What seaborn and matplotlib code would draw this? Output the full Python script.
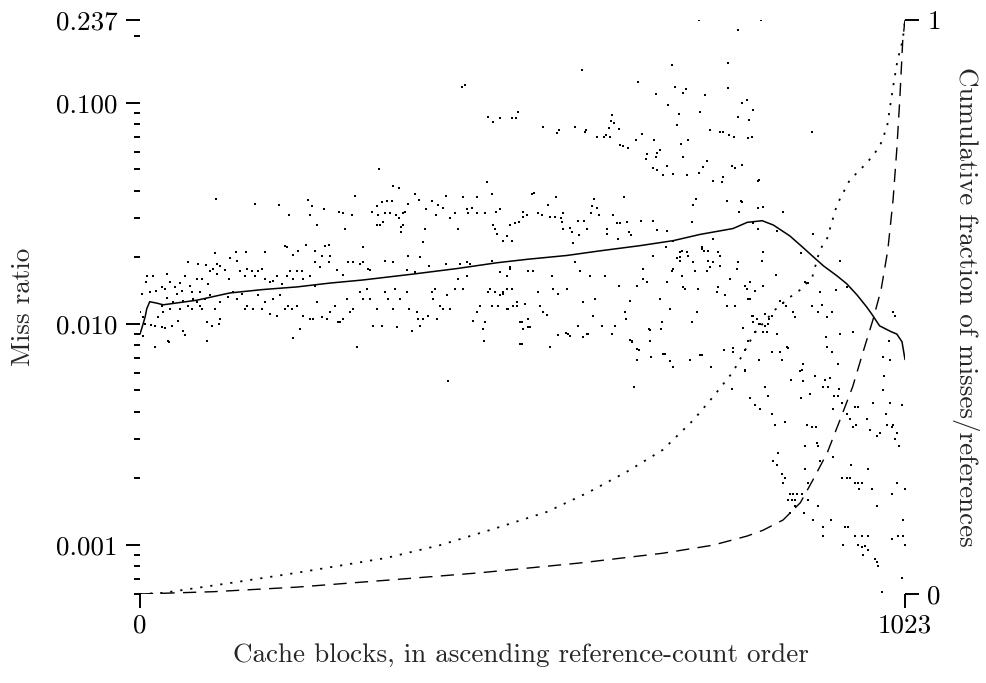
import matplotlib
matplotlib.use("Agg")
import matplotlib.pyplot as plt
import seaborn as sns
import numpy as np
import pandas as pd
from matplotlib.ticker import LogLocator, NullFormatter, FixedLocator

# ---------------- data (block index, miss ratio) ----------------
left_band = [
    (0,0.0113),(4,0.0107),(7,0.0100),(4,0.0088),(15,0.0099),(20,0.0098),(20,0.0079),(24,0.0108),(29,0.0097),(33,0.0096),
    (37,0.0084),(39,0.0083),(43,0.0098),(51,0.0103),(58,0.0093),(60,0.0089),(29,0.0121),(36,0.0131),(31,0.0113),(40,0.0117),
    (44,0.0126),(53,0.0117),(58,0.0127),(64,0.0121),(70,0.0117),(71,0.0130),(76,0.0126),(80,0.0121),(83,0.0117),(90,0.0084),
    (90,0.0102),(96,0.0098),(107,0.0105),(106,0.0100),(3,0.0137),(9,0.0165),(17,0.0164),(8,0.0155),(13,0.0140),(22,0.0141),
    (29,0.0147),(33,0.0144),(36,0.0169),(40,0.0155),(47,0.0147),(49,0.0137),(53,0.0153),(56,0.0141),(60,0.0165),(64,0.0191),
    (67,0.0149),(69,0.0140),(76,0.0160),(78,0.0187),(80,0.0140),(83,0.0160),(91,0.0152),(94,0.0173),(97,0.0178),(103,0.0169),
    (107,0.0183),(114,0.0176),(119,0.0160),(120,0.0198),(130,0.0193),(134,0.0173),(140,0.0165),(143,0.0178),(150,0.0173),(154,0.0165),
    (158,0.0173),(163,0.0178),(167,0.0160),(174,0.0155),(178,0.0157),(183,0.0165),(190,0.0152),(197,0.0165),(201,0.0173),(205,0.0160),
    (210,0.0173),(217,0.0173),(218,0.0160),(227,0.0165),(234,0.0149),(87,0.0130),(94,0.0135),(100,0.0117),(107,0.0126),(118,0.0133),
    (124,0.0140),(130,0.0130),(136,0.0137),(140,0.0117),(143,0.0121),(151,0.0117),(158,0.0135),(163,0.0117),(167,0.0126),(174,0.0111),
    (178,0.0130),(183,0.0109),(187,0.0135),(194,0.0117),(198,0.0121),(203,0.0117),(205,0.0086),(210,0.0120),(214,0.0095),(218,0.0109),
    (227,0.0105),(231,0.0105),(237,0.0126),(243,0.0107),(250,0.0105),(254,0.0113),(261,0.0121),(265,0.0102),(267,0.0102),(271,0.0105),
    (277,0.0130),(281,0.0113),(285,0.0117),(290,0.0079),(294,0.0140),(298,0.0130),(303,0.0144),(308,0.0130),(312,0.0098),(317,0.0117),
    (324,0.0098),(328,0.0140),(332,0.0130),(338,0.0117),(341,0.0144),(344,0.0097),(348,0.0130),(357,0.0140),(360,0.0117),(364,0.0093),
    (370,0.0113),(372,0.0105),(374,0.0098),(378,0.0105),(385,0.0109),(390,0.0140),(392,0.0130),(394,0.0144),(397,0.0105),(401,0.0121),
    (405,0.0117),(410,0.0135),(415,0.0117),(421,0.0144),(425,0.0160),(432,0.0144),(437,0.0165),(445,0.0103),(451,0.0113),(455,0.0121),
    (459,0.0095),(460,0.0084),(461,0.0102),(465,0.0140),(468,0.0144),(471,0.0121),(475,0.0140),(479,0.0121),(481,0.0135),(486,0.0140),
    (491,0.0144),(492,0.0117),(499,0.0121),(504,0.0126),(508,0.0102),(511,0.0081),(512,0.0095),(519,0.0105),(519,0.0097),
    (100,0.0210),(88,0.0185),(103,0.0187),(128,0.0212),(142,0.0212),(167,0.0212),(194,0.0224),(196,0.0222),(205,0.0206),(211,0.0214),
    (222,0.0227),(234,0.0214),(243,0.0203),(247,0.0224),(253,0.0228),(254,0.0203),(298,0.0222),(234,0.0191),(241,0.0180),(253,0.0190),
    (263,0.0176),(271,0.0166),(278,0.0191),(285,0.0190),(294,0.0187),(298,0.0190),(305,0.0177),(308,0.0176),(328,0.0193),(338,0.0191),
    (358,0.0203),(374,0.0200),(357,0.0176),(368,0.0172),(386,0.0183),(409,0.0187),(428,0.0187),(437,0.0190),(441,0.0187),(471,0.0193),
    (481,0.0172),(495,0.0178),(519,0.0173),
    (102,0.0369),(154,0.0350),(186,0.0346),(225,0.0365),(230,0.0340),(246,0.0330),(199,0.0310),(227,0.0310),(237,0.0280),(266,0.0320),
    (271,0.0316),(283,0.0310),(274,0.0268),(288,0.0380),(310,0.0320),(317,0.0340),(318,0.0310),(324,0.0355),(330,0.0360),(337,0.0360),
    (317,0.0280),(321,0.0280),(325,0.0290),(328,0.0316),(334,0.0316),(343,0.0310),(346,0.0300),(352,0.0316),(354,0.0320),(349,0.0275),
    (352,0.0280),(349,0.0260),(358,0.0350),(368,0.0385),(373,0.0365),(382,0.0330),(381,0.0268),(390,0.0360),(396,0.0310),(399,0.0345),
    (405,0.0333),(409,0.0380),(415,0.0300),(421,0.0316),(425,0.0270),(432,0.0375),(437,0.0330),(439,0.0316),(444,0.0333),(451,0.0375),
    (451,0.0316),(461,0.0316),(471,0.0385),(472,0.0280),(475,0.0270),(476,0.0320),(481,0.0330),(477,0.0256),(491,0.0250),(495,0.0280),
    (501,0.0285),(507,0.0290),(512,0.0305),(517,0.0310),(512,0.0320),(486,0.0236),(497,0.0236),(378,0.0235),(320,0.0500),(338,0.0420),
    (346,0.0414),(464,0.0440),
]

upper_cluster = [
    (430,0.118),(435,0.120),(465,0.0867),(472,0.082),(481,0.085),(497,0.085),(503,0.0858),(505,0.091),(591,0.141),(711,0.148),
    (786,0.151),(666,0.124),(715,0.118),(726,0.111),(730,0.116),(786,0.117),(690,0.110),(756,0.109),(706,0.0975),(805,0.100),
    (812,0.103),(820,0.093),(749,0.091),(800,0.086),(814,0.084),(721,0.089),(631,0.0878),(630,0.0825),(634,0.081),(641,0.0758),
    (627,0.077),(539,0.0775),(557,0.0727),(560,0.075),(582,0.0775),(595,0.074),(597,0.075),(611,0.0697),(620,0.070),(623,0.0715),
    (629,0.0697),(642,0.0642),(646,0.0636),(652,0.0622),(663,0.068),(671,0.072),(687,0.068),(718,0.079),(723,0.065),(733,0.068),
    (678,0.0584),(677,0.056),(691,0.059),(695,0.061),(690,0.0566),(686,0.0505),(691,0.0495),(699,0.047),(705,0.052),(713,0.0475),
    (726,0.057),(732,0.047),(748,0.048),(753,0.0515),(758,0.0545),(762,0.075),(776,0.0735),(780,0.0735),(788,0.0715),(794,0.0697),
    (766,0.0445),(778,0.0437),(780,0.046),(792,0.052),(796,0.0505),(805,0.0525),(828,0.0448),(813,0.069),(818,0.0697),(747,0.236),
    (830,0.236),(800,0.214),(899,0.074),(826,0.0445),
]

middle_cloud = [
    (524,0.0385),(527,0.0389),(556,0.0375),(647,0.0375),(743,0.0369),(740,0.0345),(785,0.036),(804,0.036),(805,0.0355),(801,0.032),
    (826,0.0333),(833,0.0337),(860,0.032),(546,0.0345),(532,0.0316),(538,0.031),(548,0.0305),(555,0.0305),(563,0.030),(566,0.0318),
    (564,0.029),(566,0.027),(575,0.0272),(578,0.026),(586,0.0293),(587,0.0253),(579,0.0233),(594,0.0293),(598,0.027),(604,0.034),
    (603,0.0318),(607,0.0369),(611,0.0333),(614,0.031),(625,0.027),(624,0.0256),(633,0.031),(638,0.0285),(639,0.0243),(642,0.0285),
    (651,0.029),(654,0.026),(657,0.0253),(670,0.0293),(686,0.0293),(691,0.0266),(705,0.0263),(713,0.0236),(725,0.0214),(731,0.0212),
    (733,0.0203),(722,0.0201),(738,0.029),(751,0.0222),(760,0.0214),(766,0.0243),(773,0.0212),(776,0.0203),(820,0.0285),(826,0.027),
    (832,0.0193),(495,0.018),(491,0.0165),(497,0.0144),(486,0.0137),(504,0.0121),(491,0.0117),(515,0.0123),(511,0.0102),(508,0.0081),
    (521,0.0097),(526,0.0173),(532,0.014),(535,0.0121),(539,0.0113),(544,0.011),(548,0.0079),(551,0.0165),(552,0.0144),(559,0.0137),
    (571,0.0144),(572,0.009),(582,0.0191),(586,0.0098),(588,0.0173),(592,0.0126),(598,0.009),(602,0.0165),(606,0.0109),(608,0.013),
    (618,0.0098),(622,0.0165),(631,0.009),(635,0.0098),(640,0.0149),(649,0.0113),(650,0.0105),(655,0.0127),(658,0.0084),(665,0.0149),
    (665,0.0077),(673,0.0178),(673,0.016),(678,0.0155),(680,0.0095),(682,0.0084),(686,0.0203),(695,0.013),(698,0.0102),(699,0.0073),
    (703,0.0222),(705,0.0155),(709,0.0117),(711,0.0173),(713,0.0178),(718,0.0198),(722,0.0212),(722,0.0193),(725,0.0165),(726,0.0147),
    (729,0.0144),(731,0.0212),(738,0.0102),(740,0.0191),(742,0.0173),(745,0.0113),(746,0.0144),(749,0.0072),(751,0.0219),(754,0.0214),
    (758,0.0173),(760,0.0193),(762,0.018),(766,0.0191),(771,0.014),(773,0.0147),(776,0.0183),(782,0.0135),(785,0.0121),(789,0.016),
    (793,0.0075),(796,0.0121),(798,0.0178),(800,0.0191),(809,0.0149),(812,0.0144),(813,0.013),(816,0.0155),(818,0.0109),(820,0.0102),
    (829,0.010),(833,0.0212),(833,0.0149),(838,0.0092),(841,0.0105),(850,0.0167),(865,0.0079),(873,0.0113),(876,0.0107),
    (412,0.0055),(559,0.0089),(570,0.0091),(575,0.0088),(592,0.0087),(599,0.009),(655,0.0085),(658,0.0083),(682,0.0094),(697,0.0095),
    (667,0.0076),(665,0.0069),(683,0.0071),(702,0.0073),(709,0.0068),(713,0.0064),(661,0.0052),(736,0.0069),(752,0.0072),(764,0.0064),
    (781,0.0076),(793,0.0078),(809,0.0076),(828,0.0069),(809,0.0062),(792,0.0051),(816,0.0046),(822,0.0043),(829,0.0041),
]

tail_cloud = [
    (852,0.0262),(900,0.0256),(936,0.0193),(884,0.021),(822,0.0141),(889,0.0155),(893,0.0153),(910,0.014),(931,0.0142),(945,0.0147),
    (816,0.013),(820,0.0109),(825,0.0105),(836,0.0111),(845,0.0109),(828,0.010),(836,0.0098),(840,0.010),(856,0.0127),(860,0.0124),
    (864,0.012),(807,0.0096),(822,0.0092),(813,0.0084),(809,0.0061),(833,0.0092),(852,0.009),(845,0.0075),(856,0.0075),(858,0.0069),
    (866,0.0078),(899,0.0121),(912,0.0122),(907,0.0113),(919,0.0107),(925,0.0113),(917,0.0087),(919,0.0079),(925,0.0075),(936,0.009),
    (953,0.0092),(933,0.0066),(887,0.0066),(885,0.0062),(883,0.0061),(887,0.0055),(871,0.0056),(903,0.0058),(916,0.0056),(923,0.0057),
    (913,0.0052),(920,0.0052),(928,0.0047),(933,0.0047),(935,0.0051),(927,0.0041),(884,0.0046),(896,0.0048),(836,0.0052),(840,0.0047),
    (845,0.0039),(849,0.0035),(862,0.0036),(892,0.0035),(899,0.0034),(904,0.0034),(889,0.0028),(905,0.0029),(907,0.0028),(927,0.0025),
    (909,0.0024),(853,0.0026),(847,0.0024),(852,0.0023),(858,0.0021),(862,0.0020),(860,0.0019),(869,0.0017),(873,0.0017),(878,0.0017),
    (885,0.0017),(866,0.0016),(872,0.0016),(876,0.0016),(893,0.0016),(889,0.0022),(893,0.0019),(869,0.0014),(876,0.0015),(888,0.0014),
    (907,0.0015),(900,0.0013),(913,0.0012),(913,0.0011),(924,0.0013),(939,0.0020),(945,0.0020),(949,0.0020),(956,0.0019),(960,0.0019),
    (966,0.0019),(962,0.0018),(973,0.0022),(951,0.0023),(979,0.0018),(985,0.0015),(1005,0.0017),(1012,0.0019),(1023,0.0018),(943,0.0012),
    (947,0.0012),(956,0.0011),(965,0.0011),(973,0.0011),(940,0.0010),(960,0.0010),(965,0.00098),(970,0.00099),(973,0.00095),(967,0.0009),
    (983,0.00086),(985,0.00084),(987,0.0008),(1005,0.00106),(1014,0.0011),(1020,0.0011),(1023,0.0010),(1020,0.0013),(1019,0.00071),(992,0.00061),
    (939,0.0044),(945,0.0039),(949,0.0037),(953,0.0034),(957,0.0035),(956,0.0042),(960,0.0042),(972,0.0037),(976,0.0033),(985,0.0031),
    (989,0.0032),(997,0.0039),(999,0.0035),(1005,0.0034),(1007,0.0035),(1012,0.0032),(1010,0.0030),(1015,0.0028),(1003,0.0044),(1019,0.0043),
    (995,0.0058),(994,0.0050),(1003,0.0069),(994,0.0071),(1002,0.0084),(980,0.0044),(1007,0.0113),(1010,0.0109),
]

# cumulative miss ratio (solid, left axis)
solid_blk = [0, 3, 7, 9, 13, 23, 31, 76, 120, 164, 210, 254, 298, 365, 424, 477, 518, 571, 615, 669,
             713, 749, 793, 812, 832, 847, 869, 887, 899, 914, 932, 945, 959, 972, 980, 989, 1005, 1012, 1019, 1023]
solid_mr = [0.0090, 0.0097, 0.0108, 0.0117, 0.0126, 0.0124, 0.0122, 0.0128, 0.0138, 0.0143, 0.0147, 0.0153, 0.0158, 0.0168, 0.0178,
            0.0189, 0.0196, 0.0204, 0.0214, 0.0226, 0.0238, 0.0254, 0.0270, 0.0288, 0.0293, 0.0280, 0.0250, 0.0221, 0.0203, 0.0183,
            0.0165, 0.0152, 0.0135, 0.0119, 0.0109, 0.0098, 0.0092, 0.0090, 0.0083, 0.0069]

# cumulative fraction of misses (dotted, right axis)
miss_blk = [0, 31, 120, 210, 330, 401, 472, 544, 598, 651, 699, 740, 766, 793, 822, 849, 869, 883, 899, 909,
            919, 932, 949, 972, 989, 999, 1007, 1013, 1020, 1023]
miss_frac = [0.0, 0.002, 0.019, 0.037, 0.063, 0.085, 0.113, 0.143, 0.176, 0.213, 0.251, 0.303, 0.343, 0.387, 0.455,
             0.495, 0.517, 0.530, 0.552, 0.599, 0.620, 0.678, 0.721, 0.751, 0.779, 0.814, 0.883, 0.930, 0.965, 1.0]

# cumulative fraction of references (dashed, right axis)
ref_blk = [0, 98, 210, 330, 455, 588, 699, 766, 812, 833, 860, 883, 900, 919, 936, 953, 967, 980, 991, 1000,
           1007, 1012, 1016, 1020, 1023]
ref_frac = [0.0, 0.004, 0.012, 0.024, 0.037, 0.054, 0.071, 0.085, 0.101, 0.111, 0.129, 0.159, 0.199, 0.246, 0.303,
            0.361, 0.422, 0.477, 0.530, 0.599, 0.686, 0.774, 0.861, 0.965, 1.0]

left_ticks = [0.001, 0.010, 0.100, 0.237]
left_ticklabels = ["0.001", "0.010", "0.100", "0.237"]
x_ticks = [0, 1023]
x_ticklabels = ["0", "1023"]
right_ticks = [0, 1]
right_ticklabels = ["0", "1"]

# ---------------- figure ----------------
sns.set_theme(style="ticks")
plt.rcParams["font.family"] = ["cmr10", "DejaVu Serif"]
plt.rcParams["axes.formatter.use_mathtext"] = True
plt.rcParams["axes.unicode_minus"] = False

W, H = 987, 683
fig = plt.figure(figsize=(W / 100, H / 100), dpi=100)
ax = fig.add_axes([140 / W, 1 - 594 / H, (905 - 140) / W, (594 - 20) / H])

pts = pd.DataFrame(left_band + upper_cluster + middle_cloud + tail_cloud, columns=["block", "ratio"])
sns.scatterplot(data=pts, x="block", y="ratio", ax=ax, marker="s", s=3.6, color="black",
                linewidth=0, legend=False, zorder=2)
sns.lineplot(x=solid_blk, y=solid_mr, ax=ax, color="black", linewidth=1.1, estimator=None, zorder=3)

ax.set_yscale("log")
ax.set_ylim(0.0006, 0.237)
ax.set_xlim(0, 1023)

ax2 = ax.twinx()
sns.lineplot(x=miss_blk, y=miss_frac, ax=ax2, color="black", linewidth=1.3,
             linestyle=(0, (1.2, 4.4)), estimator=None)
sns.lineplot(x=ref_blk, y=ref_frac, ax=ax2, color="black", linewidth=1.0,
             linestyle=(0, (9.5, 6.0)), estimator=None)
ax2.set_ylim(0, 1)
ax2.set_xlim(0, 1023)

for a in (ax, ax2):
    for s in a.spines.values():
        s.set_visible(False)
    a.set_xlabel("")
    a.set_ylabel("")

ax.yaxis.set_major_locator(FixedLocator(left_ticks))
ax.set_yticklabels(left_ticklabels)
ax.yaxis.set_minor_locator(LogLocator(base=10, subs=np.arange(2, 10)))
ax.yaxis.set_minor_formatter(NullFormatter())
ax.set_xticks(x_ticks)
ax.set_xticklabels(x_ticklabels)
ax.xaxis.set_minor_locator(FixedLocator([]))

ax.tick_params(axis="y", which="major", direction="out", length=10, width=1.4, pad=6,
               labelsize=19.5, color="black", labelcolor="black", left=True, right=False)
ax.tick_params(axis="y", which="minor", direction="out", length=4.5, width=1.4,
               color="black", left=True, right=False)
ax.tick_params(axis="x", which="major", direction="out", length=10, width=1.4, pad=4,
               labelsize=19.5, color="black", labelcolor="black", bottom=True, top=False)

ax2.set_yticks(right_ticks)
ax2.set_yticklabels(right_ticklabels)
ax2.yaxis.set_minor_locator(FixedLocator([]))
ax2.tick_params(axis="y", which="major", direction="out", length=10, width=1.4, pad=6,
                labelsize=19.5, color="black", labelcolor="black", right=True, left=False)
ax2.tick_params(axis="x", bottom=False, top=False, labelbottom=False)

fig.text(23 / W, 1 - 307 / H, "Miss ratio", rotation=90, ha="center", va="center", fontsize=19.5)
fig.text(966 / W, 1 - 307 / H, "Cumulative fraction of misses/references", rotation=-90,
         ha="center", va="center", fontsize=19.5)
fig.text(521 / W, 1 - 655 / H, "Cache blocks, in ascending reference-count order",
         ha="center", va="center", fontsize=19.5)

fig.savefig("out.png", dpi=100, facecolor="white")
